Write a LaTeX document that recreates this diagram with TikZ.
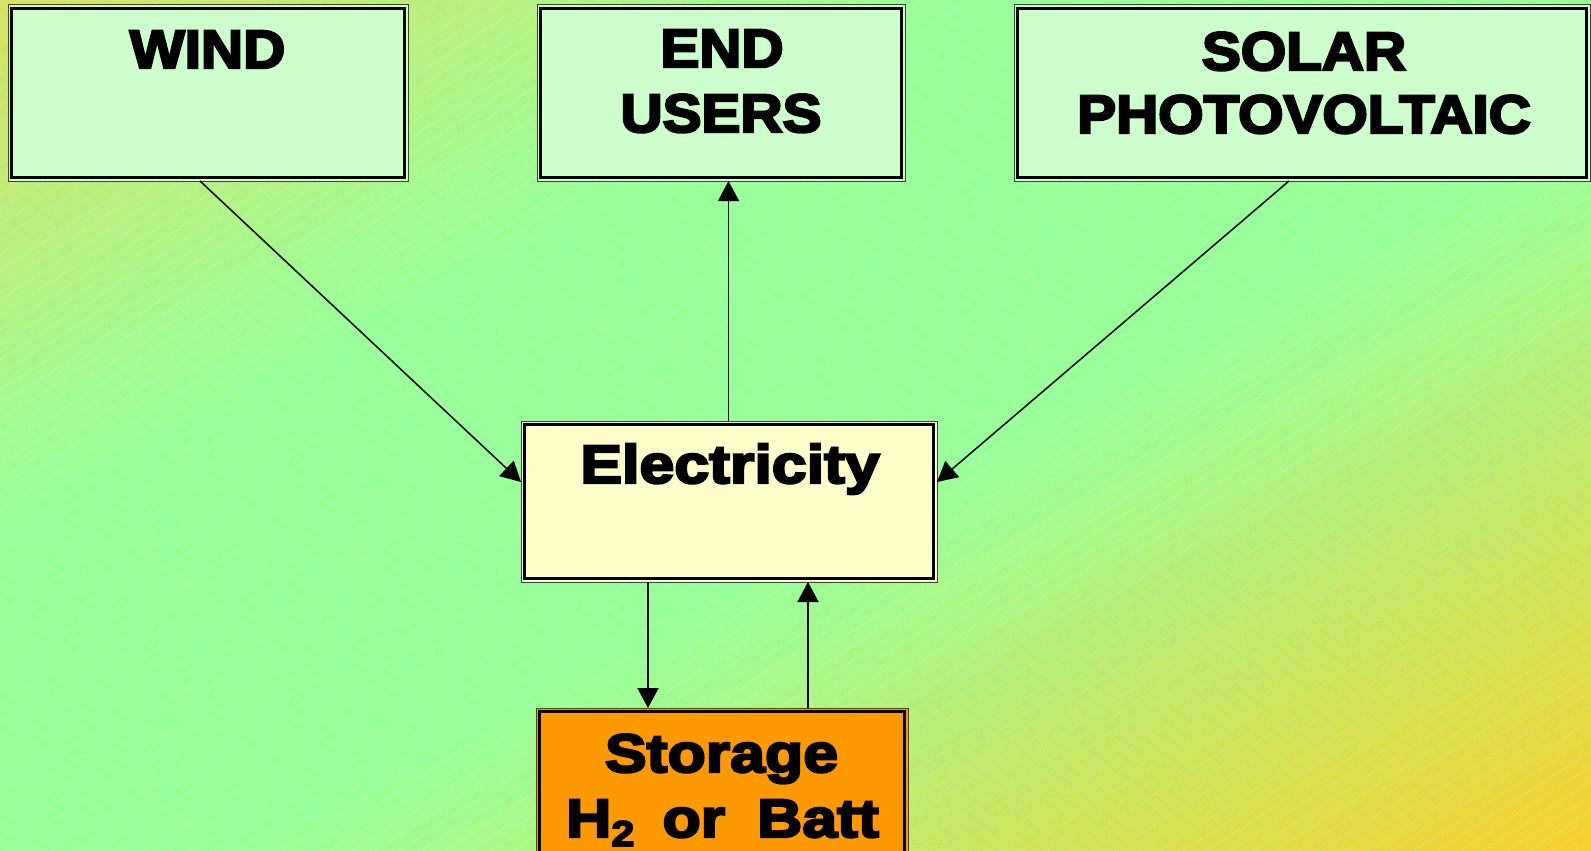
\documentclass[tikz,border=0pt]{standalone}
\usepackage{fontspec}
\newfontfamily\capfont{Liberation Sans Bold}[FakeBold=4.5,FakeStretch=1.08]
\newfontfamily\lowfont{Liberation Sans Bold}[FakeBold=4.5,FakeStretch=1.16]
\usetikzlibrary{arrows.meta}
\definecolor{bgA}{RGB}{215,225,100}
\definecolor{bgG}{RGB}{153,255,153}
\definecolor{bgB}{RGB}{247,209,46}
\definecolor{boxgreen}{RGB}{204,255,204}
\definecolor{boxyellow}{RGB}{255,255,204}
\definecolor{boxorange}{RGB}{255,153,0}
\tikzset{
  frame/.style={draw=black!75, line width=1pt, inner sep=0pt, outer sep=0pt},
  innerframe/.style={draw=black, line width=3pt},
  txt/.style={anchor=base, inner sep=0pt, font=\fontsize{54}{54}\selectfont},
  arr/.style={draw=black, line width=1.5pt, -{Triangle[length=20pt,width=21pt]}},
  stripe/.style={draw=white, opacity=0.22, line width=0.8pt, dash pattern=on 2pt off 1.5pt}
}
\begin{document}
\begin{tikzpicture}[x=1pt,y=-1pt]
\useasboundingbox (0,0) rectangle (1591,851);
\begin{scope}
\clip (0,0) rectangle (1591,851);
% background diagonal gradient
\foreach \i in {0,...,59}{
  \pgfmathsetmacro\tt{(\i+0.5)/60}
  \pgfmathtruncatemacro\pone{min(100,\tt/0.3*100)}
  \pgfmathtruncatemacro\ptwo{max(0,(\tt-0.58)/0.42*100)}
  \pgfmathsetmacro\sa{\i/30}
  \pgfmathsetmacro\sb{(\i+1)/30+0.01}
  \colorlet{bandc}{bgG!\pone!bgA}
  \colorlet{bandc}{bgB!\ptwo!bandc}
  \fill[bandc] (\sa*1591,0) -- (\sb*1591,0) -- (0,\sb*851) -- (0,\sa*851) -- cycle;
}
% faint stripes
\foreach \yy in {0,15,...,1890}{
  \draw[stripe] (0,\yy) -- (1591,\yy-1034);
}
% boxes
\node[frame, fill=boxgreen, minimum width=400pt, minimum height=176pt] (wind) at (208,93) {};
\node[frame, fill=boxgreen, minimum width=368pt, minimum height=176pt] (end) at (721,93) {};
\node[frame, fill=boxgreen, minimum width=576pt, minimum height=176pt] (solar) at (1302,93) {};
\node[frame, fill=boxyellow, minimum width=416pt, minimum height=161pt] (elec) at (729,501.5) {};
\node[frame, fill=boxorange, minimum width=372pt, minimum height=162pt] (stor) at (722,789) {};
\foreach \b in {wind,end,solar,elec,stor}{
  \draw[innerframe] ([shift={(3.5,3.5)}]\b.north west) rectangle ([shift={(-3.5,-3.5)}]\b.south east);
}
% texts
\node[txt] (twind) at (207.5,68) {\capfont WIND};
\node[txt] (tend1) at (722,67) {\capfont END};
\node[txt] (tend2) at (721,132) {\capfont USERS};
\node[txt] (tsol1) at (1304,70) {\capfont SOLAR};
\node[txt] (tsol2) at (1304,133) {\capfont PHOTOVOLTAIC};
\node[txt] (telec) at (730,483) {\lowfont Electricity};
\node[txt] (tstor1) at (721.5,772) {\lowfont Storage};
\node[txt] (tstor2) at (722.5,837) {\lowfont H\raisebox{-9pt}{\fontsize{36}{36}\selectfont 2}\hspace{28pt}or\hspace{32pt}Batt};
% connectors
\draw[arr] (wind.south -| 200,0) -- (elec.west |- 0,482);
\draw[arr] (solar.south -| 1289,0) -- (elec.east |- 0,482);
\draw[arr] (elec.north -| 728.5,0) -- (end.south -| 728.5,0);
\draw[arr] (elec.south -| 648,0) -- (stor.north -| 648,0);
\draw[arr] (stor.north -| 808,0) -- (elec.south -| 808,0);
\end{scope}
\end{tikzpicture}
\end{document}
